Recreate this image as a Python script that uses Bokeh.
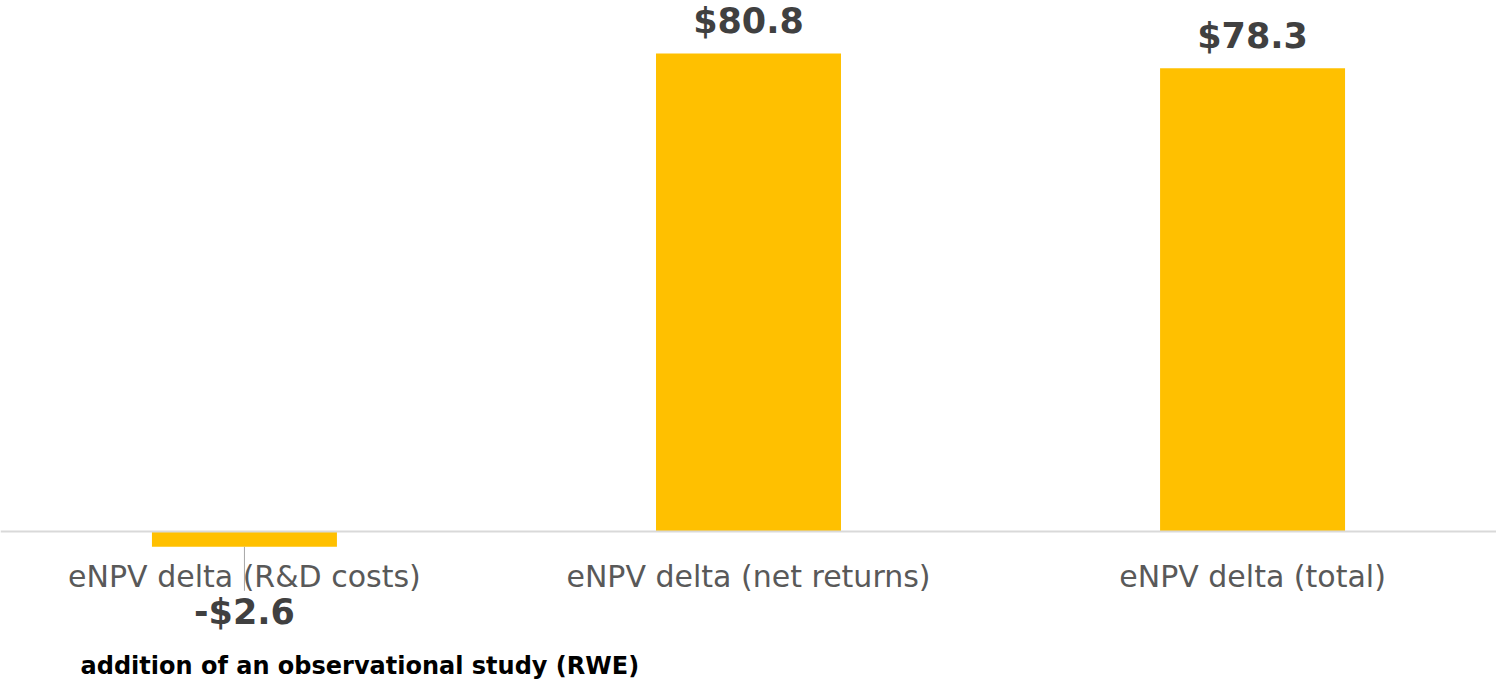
from bokeh.plotting import figure
from bokeh.models import ColumnDataSource, Label, FactorRange, Range1d
from bokeh.embed import file_html
from bokeh.resources import INLINE
from bokeh.core.properties import value

# ---- data ----
categories = ["eNPV delta (R&D costs)", "eNPV delta (net returns)", "eNPV delta (total)"]
values = [-2.6, 80.8, 78.3]
value_labels = ["-$2.6", "$80.8", "$78.3"]
note = "addition of an observational study (RWE)"

# ---- styles ----
W, H = 1496, 680
Y_MIN, Y_MAX = -25.2, 89.75
BAR_COLOR = "#FFC000"
label_offsets = [65 if v < 0 else -32 for v in values]  # px, positive = down

src = ColumnDataSource(dict(cat=categories, val=values, lab=value_labels, off=label_offsets))

p = figure(width=W, height=H,
           x_range=FactorRange(*categories, range_padding=-0.0107),
           y_range=Range1d(Y_MIN, Y_MAX),
           output_backend="svg", toolbar_location=None,
           min_border=0, outline_line_color=None)

p.vbar(x="cat", top="val", bottom=0, width=0.367, source=src,
       fill_color=BAR_COLOR, line_color=None)

# leader line for the negative label
px_per_unit = H / (Y_MAX - Y_MIN)
neg = [i for i, v in enumerate(values) if v < 0]
p.segment(x0=[categories[i] for i in neg], y0=[values[i] for i in neg],
          x1=[categories[i] for i in neg], y1=[values[i] - 44 / px_per_unit for i in neg],
          line_color="#a6a6a6", line_width=1)

p.text(x="cat", y="val", text="lab", source=src, y_offset="off",
       text_font=value("DejaVu Sans"), text_font_style="bold",
       text_font_size="35px", text_color="#404040",
       text_align="center", text_baseline="middle")

p.xgrid.visible = False
p.ygrid.visible = False
p.yaxis.visible = False

xa = p.xaxis[0]
xa.fixed_location = 0
xa.axis_line_color = "#d9d9d9"
xa.axis_line_width = 2
xa.major_tick_line_color = None
xa.minor_tick_line_color = None
xa.major_tick_in = 0
xa.major_tick_out = 0
xa.major_label_standoff = 28
xa.major_label_text_font = "DejaVu Sans"
xa.major_label_text_font_size = "30px"
xa.major_label_text_color = "#595959"

p.add_layout(Label(x=80, y=1, x_units="screen", y_units="screen", text=note,
                   text_font="DejaVu Sans", text_font_style="bold",
                   text_font_size="24px", text_color="#000000",
                   text_baseline="bottom", text_align="left"))

open("out.html", "w").write(file_html(p, INLINE))
